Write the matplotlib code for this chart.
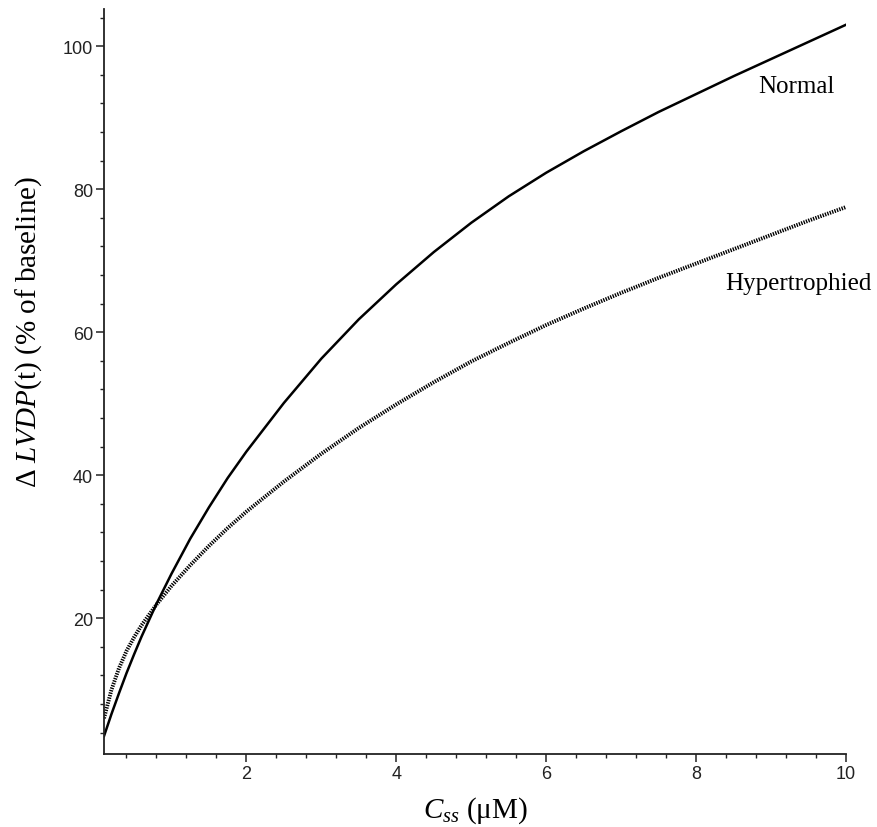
import matplotlib
matplotlib.use('Agg')
import matplotlib.pyplot as plt
from matplotlib.ticker import MultipleLocator

plt.rcParams['mathtext.fontset'] = 'custom'
plt.rcParams['mathtext.rm'] = 'Liberation Serif'
plt.rcParams['mathtext.it'] = 'Liberation Serif:italic'

# concentration (uM) and response
css = [0.1, 0.2, 0.3, 0.4, 0.5, 0.6, 0.8, 1.0, 1.25, 1.5, 1.75, 2.0, 2.5, 3.0, 3.5,
       4.0, 4.5, 5.0, 5.5, 6.0, 6.5, 7.0, 7.5, 8.0, 8.5, 9.0, 9.5, 10.0]
normal = [3.5, 6.6, 9.5, 12.3, 14.9, 17.4, 22.0, 26.2, 31.1, 35.5, 39.6, 43.3, 50.1, 56.3, 61.8,
          66.7, 71.2, 75.3, 79.0, 82.3, 85.3, 88.1, 90.8, 93.3, 95.8, 98.2, 100.6, 103.0]
hyper = [6.0, 10.0, 13.0, 15.4, 17.3, 19.0, 21.9, 24.5, 27.4, 30.1, 32.6, 34.9, 39.1, 43.0, 46.6,
         49.9, 53.0, 55.9, 58.5, 61.0, 63.3, 65.5, 67.6, 69.6, 71.6, 73.6, 75.6, 77.5]

fig = plt.figure(figsize=(8.77, 8.28), dpi=100)
ax = fig.add_axes([104/877, 73/828, 742/877, 745/828])

ax.plot(css, normal, color='black', lw=1.8)
ax.plot(css, hyper, color='black', lw=2.8, linestyle=(0, (0.35, 0.3)))

ax.set_xlim(0.1, 10)
ax.set_ylim(1.0, 105.2)
ax.xaxis.set_major_locator(MultipleLocator(2))
ax.xaxis.set_minor_locator(MultipleLocator(0.4))
ax.yaxis.set_major_locator(MultipleLocator(20))
ax.yaxis.set_minor_locator(MultipleLocator(4))

for s in ['top', 'right']:
    ax.spines[s].set_visible(False)
for s in ['left', 'bottom']:
    ax.spines[s].set_linewidth(1.3)
    ax.spines[s].set_color('#222222')

ax.tick_params(which='major', length=6, width=1.1, color='#222222',
               labelsize=13, labelcolor='#222222', pad=2)
ax.tick_params(which='minor', length=3, width=1.0, color='#222222')
for lab in ax.get_xticklabels() + ax.get_yticklabels():
    lab.set_family('Liberation Sans')

ax.set_xlabel(r'$C_{ss}$ (μM)', family='Liberation Serif', fontsize=21, labelpad=9)
ax.set_ylabel(r'$\mathit{Δ\ LVDP}$(t) (% of baseline)', family='Liberation Serif', fontsize=21)
ax.yaxis.set_label_coords(-0.081, 0.568)

ax.text(8.83, 94.5, 'Normal', family='Liberation Serif', fontsize=18, va='center')
ax.text(8.39, 66.9, 'Hypertrophied', family='Liberation Serif', fontsize=18, va='center')

fig.savefig('out.png', dpi=100)
